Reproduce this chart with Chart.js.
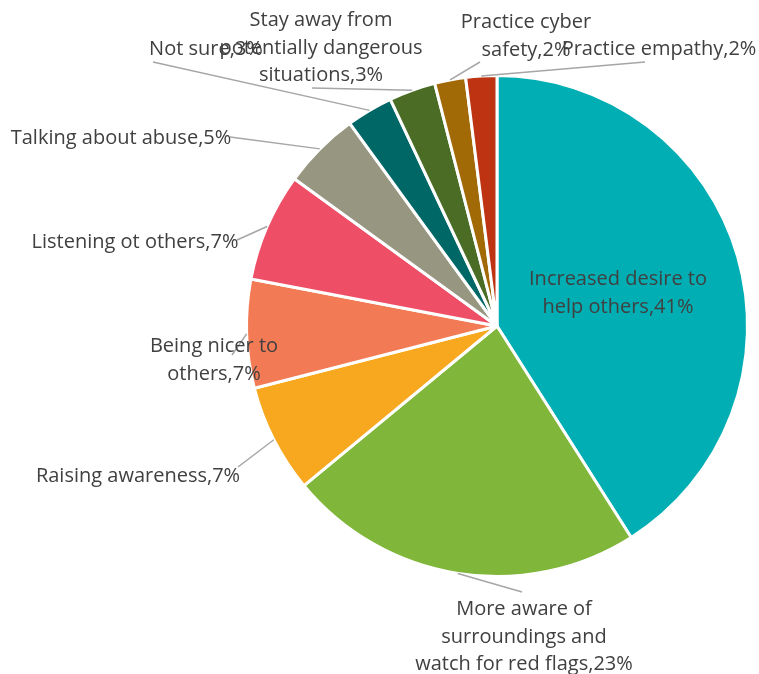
<!DOCTYPE html>
<html>
<head>
    <title>What changed after the program</title>
    <meta charset="utf-8" />
    <script src="https://cdn.jsdelivr.net/npm/chart.js@4.4.0/dist/chart.umd.min.js"></script>
    <style>
        body { margin: 0; background: #fff; }
        .chart-container { width: 759px; height: 674px; position: relative; }
    </style>
</head>
<body>
<div class="chart-container">
    <canvas id="pieChart"></canvas>
</div>

<script>
// categories (line breaks are where the label wraps)
var categories = [
    'Increased desire to\nhelp others',
    'More aware of\nsurroundings and\nwatch for red flags',
    'Raising awareness',
    'Being nicer to\nothers',
    'Listening ot others',
    'Talking about abuse',
    'Not sure',
    'Stay away from\npotentially dangerous\nsituations',
    'Practice cyber\nsafety',
    'Practice empathy'
];
var percentValues = [41, 23, 7, 7, 7, 5, 3, 3, 2, 2];
var sliceColors = ['#00AEB4', '#80B63A', '#F7A81E', '#F27B55', '#EE4F66',
                   '#979680', '#006767', '#4A6C24', '#A26A06', '#BE3413'];

// label text position (centre x, first baseline) and leader line end,
// both as pixel offsets from the pie centre; null = no leader line
var labelOffsets = [
    {tx: 121, ty: -41, lead: null},
    {tx: 27, ty: 289, lead: [25, 266]},
    {tx: -359, ty: 156, lead: [-259, 141]},
    {tx: -283, ty: 26, lead: [-265, 29]},
    {tx: -362, ty: -78, lead: [-260, -86]},
    {tx: -376, ty: -182, lead: [-267, -189]},
    {tx: -291, ty: -271, lead: [-344, -264]},
    {tx: -176, ty: -300, lead: [-185, -238]},
    {tx: 29, ty: -298, lead: [-17, -264]},
    {tx: 162, ty: -271, lead: [148, -264]}
];

var labelFont = '20px "Open Sans", sans-serif';
var lineHeight = 27.5;

// draws the leader lines and the "name,value%" labels
var pieLabels = {
    id: 'pieLabels',
    afterDatasetsDraw: function(chart) {
        var ctx = chart.ctx;
        var arcs = chart.getDatasetMeta(0).data;
        ctx.save();
        for (var i = 0; i < arcs.length; i++) {
            var arc = arcs[i];
            var pos = labelOffsets[i];
            if (pos.lead) {
                var mid = (arc.startAngle + arc.endAngle) / 2;
                var sx = arc.x + arc.outerRadius * Math.cos(mid);
                var sy = arc.y + arc.outerRadius * Math.sin(mid);
                ctx.strokeStyle = '#A6A6A6';
                ctx.lineWidth = 1.5;
                ctx.beginPath();
                ctx.moveTo(sx, sy);
                ctx.lineTo(arc.x + pos.lead[0], arc.y + pos.lead[1]);
                ctx.stroke();
            }
        }
        ctx.font = labelFont;
        ctx.fillStyle = '#404040';
        ctx.textAlign = 'center';
        ctx.textBaseline = 'alphabetic';
        for (var i = 0; i < arcs.length; i++) {
            var arc = arcs[i];
            var pos = labelOffsets[i];
            var lines = (categories[i] + ',' + percentValues[i] + '%').split('\n');
            for (var j = 0; j < lines.length; j++) {
                ctx.fillText(lines[j], arc.x + pos.tx, arc.y + pos.ty + j * lineHeight);
            }
        }
        ctx.restore();
    }
};

var pieChart = new Chart('pieChart', {
    type: 'pie',
    data: {
        labels: categories,
        datasets: [{
            data: percentValues,
            backgroundColor: sliceColors,
            borderColor: '#ffffff',
            borderWidth: 3
        }]
    },
    options: {
        responsive: true,
        maintainAspectRatio: false,
        animation: false,
        layout: {
            padding: {left: 245, right: 10, top: 73, bottom: 95}
        },
        plugins: {
            legend: {display: false},
            tooltip: {enabled: false}
        }
    },
    plugins: [pieLabels]
});
</script>
</body>
</html>
